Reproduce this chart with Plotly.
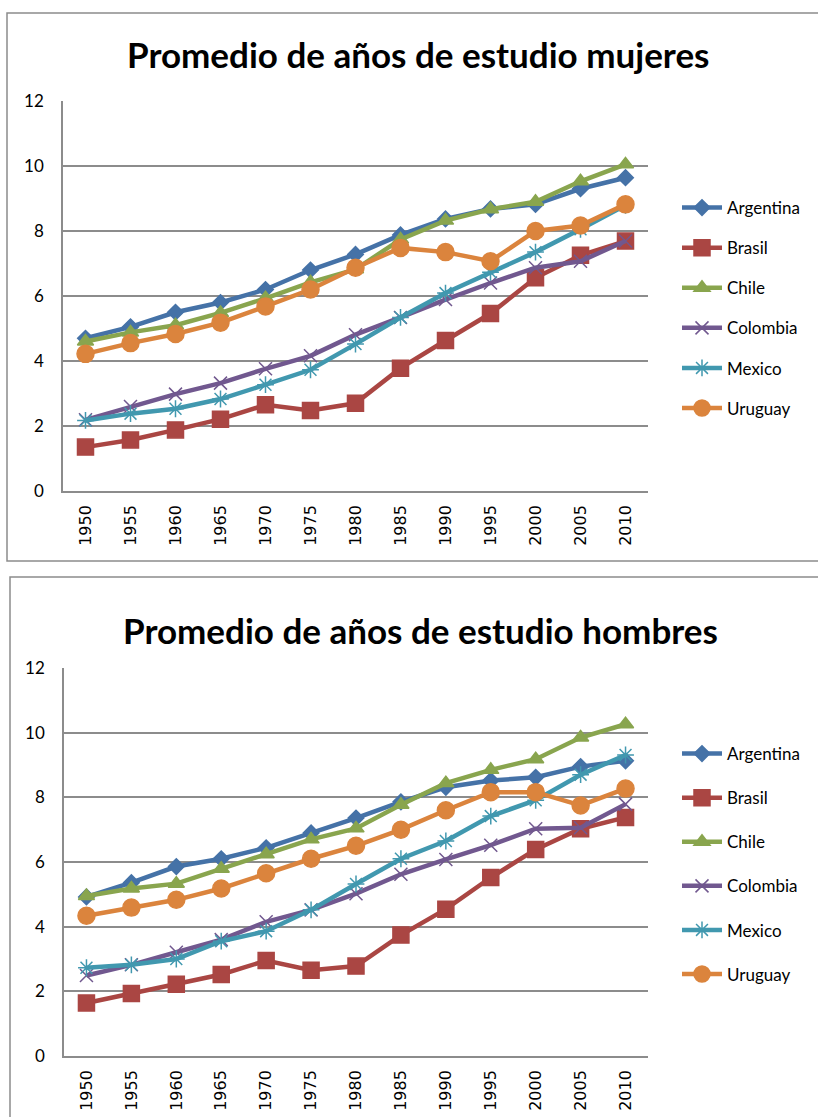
import plotly.graph_objects as go

years = ["1950", "1955", "1960", "1965", "1970", "1975", "1980",
         "1985", "1990", "1995", "2000", "2005", "2010"]
countries = ["Argentina", "Brasil", "Chile", "Colombia", "Mexico", "Uruguay"]

# Promedio de años de estudio - mujeres
argentina_m = [4.7, 5.05, 5.5, 5.8, 6.2, 6.8, 7.28, 7.88, 8.37, 8.68, 8.82, 9.3, 9.64]
brasil_m = [1.35, 1.57, 1.88, 2.21, 2.65, 2.48, 2.7, 3.78, 4.63, 5.46, 6.56, 7.25, 7.69]
chile_m = [4.6, 4.88, 5.1, 5.48, 5.93, 6.42, 6.82, 7.74, 8.32, 8.67, 8.9, 9.53, 10.05]
colombia_m = [2.19, 2.6, 2.98, 3.32, 3.76, 4.16, 4.81, 5.34, 5.89, 6.4, 6.87, 7.07, 7.69]
mexico_m = [2.17, 2.38, 2.53, 2.83, 3.27, 3.73, 4.52, 5.34, 6.09, 6.73, 7.35, 8.05, 8.79]
uruguay_m = [4.22, 4.55, 4.83, 5.18, 5.68, 6.2, 6.87, 7.48, 7.35, 7.07, 8.0, 8.17, 8.82]

# Promedio de años de estudio - hombres
argentina_h = [4.92, 5.36, 5.86, 6.1, 6.44, 6.9, 7.36, 7.86, 8.31, 8.52, 8.62, 8.95, 9.13]
brasil_h = [1.64, 1.93, 2.22, 2.52, 2.95, 2.65, 2.78, 3.74, 4.54, 5.52, 6.39, 7.03, 7.38]
chile_h = [4.95, 5.18, 5.33, 5.79, 6.24, 6.7, 7.04, 7.77, 8.44, 8.85, 9.18, 9.85, 10.26]
colombia_h = [2.49, 2.82, 3.21, 3.6, 4.15, 4.52, 5.02, 5.62, 6.08, 6.52, 7.03, 7.06, 7.79]
mexico_h = [2.73, 2.82, 3.0, 3.55, 3.86, 4.52, 5.32, 6.1, 6.65, 7.42, 7.91, 8.7, 9.31]
uruguay_h = [4.34, 4.59, 4.83, 5.18, 5.65, 6.1, 6.5, 7.0, 7.6, 8.16, 8.16, 7.75, 8.27]

y_ticks = [0, 2, 4, 6, 8, 10, 12]

title_m = "Promedio de años de estudio mujeres"
title_h = "Promedio de años de estudio hombres"

colors = ["#4572A7", "#AA4643", "#89A54E", "#71588F", "#4198AF", "#DB843D"]
symbols = ["diamond", "square", "triangle-up", "x-thin-open", "asterisk-open", "circle"]
msizes = [12, 16, 14, 13, 14, 17]

W, H = 818, 1117


def px(x):
    return x / W


def py(y):
    return 1 - y / H


fig = go.Figure()

series_m = [argentina_m, brasil_m, chile_m, colombia_m, mexico_m, uruguay_m]
series_h = [argentina_h, brasil_h, chile_h, colombia_h, mexico_h, uruguay_h]

for i, (name, vals) in enumerate(zip(countries, series_m)):
    fig.add_trace(go.Scatter(
        x=years, y=vals, name=name, mode="lines+markers",
        line=dict(color=colors[i], width=4.5),
        marker=dict(symbol=symbols[i], size=msizes[i], color=colors[i],
                    line=dict(color=colors[i], width=1.5)),
        xaxis="x", yaxis="y", legend="legend", legendgroup="m" + name,
    ))

for i, (name, vals) in enumerate(zip(countries, series_h)):
    fig.add_trace(go.Scatter(
        x=years, y=vals, name=name, mode="lines+markers",
        line=dict(color=colors[i], width=4.5),
        marker=dict(symbol=symbols[i], size=msizes[i], color=colors[i],
                    line=dict(color=colors[i], width=1.5)),
        xaxis="x2", yaxis="y2", legend="legend2", legendgroup="h" + name,
    ))

axis_font = dict(family="Lato, Calibri, sans-serif", size=17, color="#000000")
xtick_font = dict(family="DejaVu Sans, Verdana, sans-serif", size=16, color="#000000")

common_x = dict(type="category", range=[-0.5, 12.5], tickangle=-90,
                showline=True, linecolor="#8c8c8c", linewidth=1.5,
                showgrid=False, ticks="", tickfont=xtick_font,
                ticklabelstandoff=6, fixedrange=True, automargin=False)
common_y = dict(range=[0, 12], tickvals=y_ticks, showline=True,
                linecolor="#8c8c8c", linewidth=1.5, showgrid=True,
                gridcolor="#8c8c8c", gridwidth=1.5, zeroline=False,
                ticks="", tickfont=axis_font, ticklabelstandoff=14,
                fixedrange=True, automargin=False)

legend_common = dict(font=dict(family="Lato, Calibri, sans-serif", size=17, color="#000000"),
                     bgcolor="rgba(0,0,0,0)", borderwidth=0, itemwidth=40,
                     xanchor="left", yanchor="top", tracegroupgap=15)

fig.update_layout(
    width=W, height=H,
    margin=dict(l=0, r=0, t=0, b=0, autoexpand=False),
    paper_bgcolor="white", plot_bgcolor="white",
    xaxis=dict(domain=[px(63), px(648)], anchor="y", **common_x),
    yaxis=dict(domain=[py(491), py(101)], anchor="x", **common_y),
    xaxis2=dict(domain=[px(64), px(648)], anchor="y2", **common_x),
    yaxis2=dict(domain=[py(1056), py(668)], anchor="x2", **common_y),
    legend=dict(x=px(677), y=py(190), **legend_common),
    legend2=dict(x=px(677), y=py(736), **{**legend_common, "tracegroupgap": 19}),
    showlegend=True,
)

# chart frames
fig.add_shape(type="rect", xref="paper", yref="paper",
              x0=px(7), x1=px(830), y0=py(561), y1=py(13),
              line=dict(color="#8c8c8c", width=1.5), fillcolor="rgba(0,0,0,0)", layer="below")
fig.add_shape(type="rect", xref="paper", yref="paper",
              x0=px(10), x1=px(830), y0=py(1130), y1=py(577),
              line=dict(color="#8c8c8c", width=1.5), fillcolor="rgba(0,0,0,0)", layer="below")

title_font = dict(family="Lato, Calibri, sans-serif", size=35, color="#000000")
fig.add_annotation(text="<b>" + title_m + "</b>", x=px(418), y=py(54), xref="paper", yref="paper",
                   showarrow=False, font=title_font, xanchor="center", yanchor="middle")
fig.add_annotation(text="<b>" + title_h + "</b>", x=px(420), y=py(630), xref="paper", yref="paper",
                   showarrow=False, font=title_font, xanchor="center", yanchor="middle")

fig.write_html("out.html", config={"displayModeBar": False},
               post_script="document.body.style.margin='0';document.body.style.overflow='hidden';")
